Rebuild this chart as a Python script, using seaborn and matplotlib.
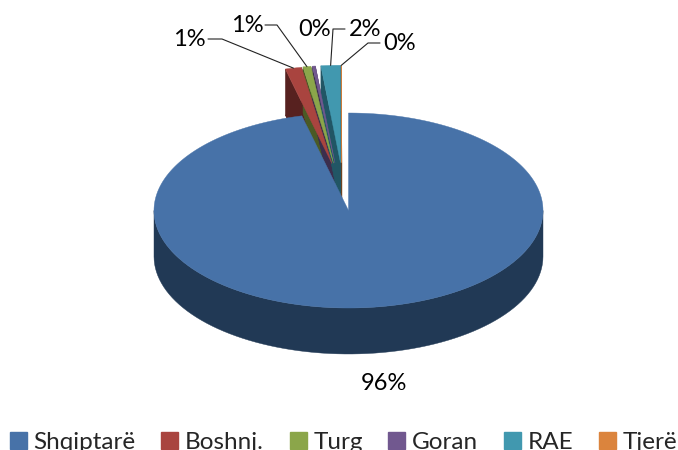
import numpy as np
import seaborn as sns
import matplotlib
matplotlib.use("Agg")
import matplotlib.pyplot as plt
from matplotlib.patches import Patch, Polygon

categories = ["Shqiptarë", "Boshnj.", "Turg", "Goran", "RAE", "Tjerë"]
values = [96.3, 1.35, 0.65, 0.25, 1.6, 0.01]
pct_labels = ["96%", "1%", "1%", "0%", "2%", "0%"]
top_colors = ["#4772A8", "#A9443F", "#8BA64A", "#71588F", "#4198AF", "#DB843D"]
side_colors = ["#213955", "#57211F", "#4A5A25", "#3B2E4D", "#215665", "#6E421E"]

# ellipse of the pie in pixels
cx, cy = 348.5, 210.5
rx, ry = 194.5, 97.5
depth = 46
explode = 0.49
# sideways pull of each small slice, pixels
pull_x = [0, -16.5, -15, -13.5, -8, -7]

sns.set_theme(style="white", palette=top_colors)
plt.rcParams["font.family"] = ["Lato", "DejaVu Sans"]

fig = plt.figure(figsize=(6.78, 4.5), dpi=100)
ax = fig.add_axes([0, 0, 1, 1])
ax.set_xlim(0, 678)
ax.set_ylim(450, 0)
ax.axis("off")


def arc(x0, y0, a, b, n=80):
    t = np.radians(np.linspace(a, b, n))
    return np.column_stack([x0 + rx * np.sin(t), y0 - ry * np.cos(t)])


def draw_slice(a, b, x0, y0, top, side, z):
    pts = np.vstack([[[x0, y0]], arc(x0, y0, a, b)])
    down = pts + [0, depth]
    # cut faces, then the top
    for p, q in [(pts[0], pts[1]), (pts[0], pts[-1])]:
        ax.add_patch(Polygon([p, q, q + [0, depth], p + [0, depth]], fc=side, ec=side, lw=0.3, zorder=z))
    ax.add_patch(Polygon(down, fc=side, ec=side, lw=0.3, zorder=z))
    ax.add_patch(Polygon(pts, fc=top, ec=top, lw=0.3, zorder=z + 0.5))


edges = np.concatenate([[0], np.cumsum(values)]) / np.sum(values) * 360
outer = {}
for i in range(1, len(values)):
    a, b = edges[i], edges[i + 1]
    mid = np.radians((a + b) / 2)
    x0 = cx + pull_x[i]
    y0 = cy - explode * ry * np.cos(mid)
    draw_slice(a, b, x0, y0, top_colors[i], side_colors[i], 2 + i * 0.01)
    outer[i] = (x0 + rx * np.sin(mid), y0 - ry * np.cos(mid))

# the big slice goes on top, with its outer wall in front
rim = arc(cx, cy, 90, 270)
ax.add_patch(Polygon(np.vstack([rim, (rim + [0, depth])[::-1]]), fc=side_colors[0], ec=side_colors[0], lw=0.3, zorder=4))
ax.add_patch(Polygon(np.vstack([[[cx, cy]], arc(cx, cy, 0, edges[1], 300)]), fc=top_colors[0], ec=top_colors[0], lw=0.3, zorder=5))

# percent labels and leader lines
label_pos = [(384, 384), (189, 39), (247, 25), (315, 29), (365, 29), (400, 43)]
leaders = {1: [(208, 39), (222, 39)], 2: [(265, 25), (277, 25)], 4: [(345, 29), (333, 29)], 5: [(380, 43), (368, 43)]}
for i, (x, y) in enumerate(label_pos):
    ax.text(x, y, pct_labels[i], ha="center", va="center", fontsize=17, color="black", zorder=7)
for i, pts in leaders.items():
    xs, ys = zip(*(pts + [outer[i]]))
    ax.plot(xs, ys, color="#222222", lw=0.8, zorder=6)

handles = [Patch(fc=c, ec=c, label=n) for c, n in zip(top_colors, categories)]
fig.legend(handles=handles, ncol=6, loc="lower left", bbox_to_anchor=(0.0145, -0.006), frameon=False,
           fontsize=17.5, handlelength=0.7, handleheight=0.7, handletextpad=0.28, columnspacing=1.05,
           borderpad=0, borderaxespad=0)

fig.savefig("out.png", dpi=100)
